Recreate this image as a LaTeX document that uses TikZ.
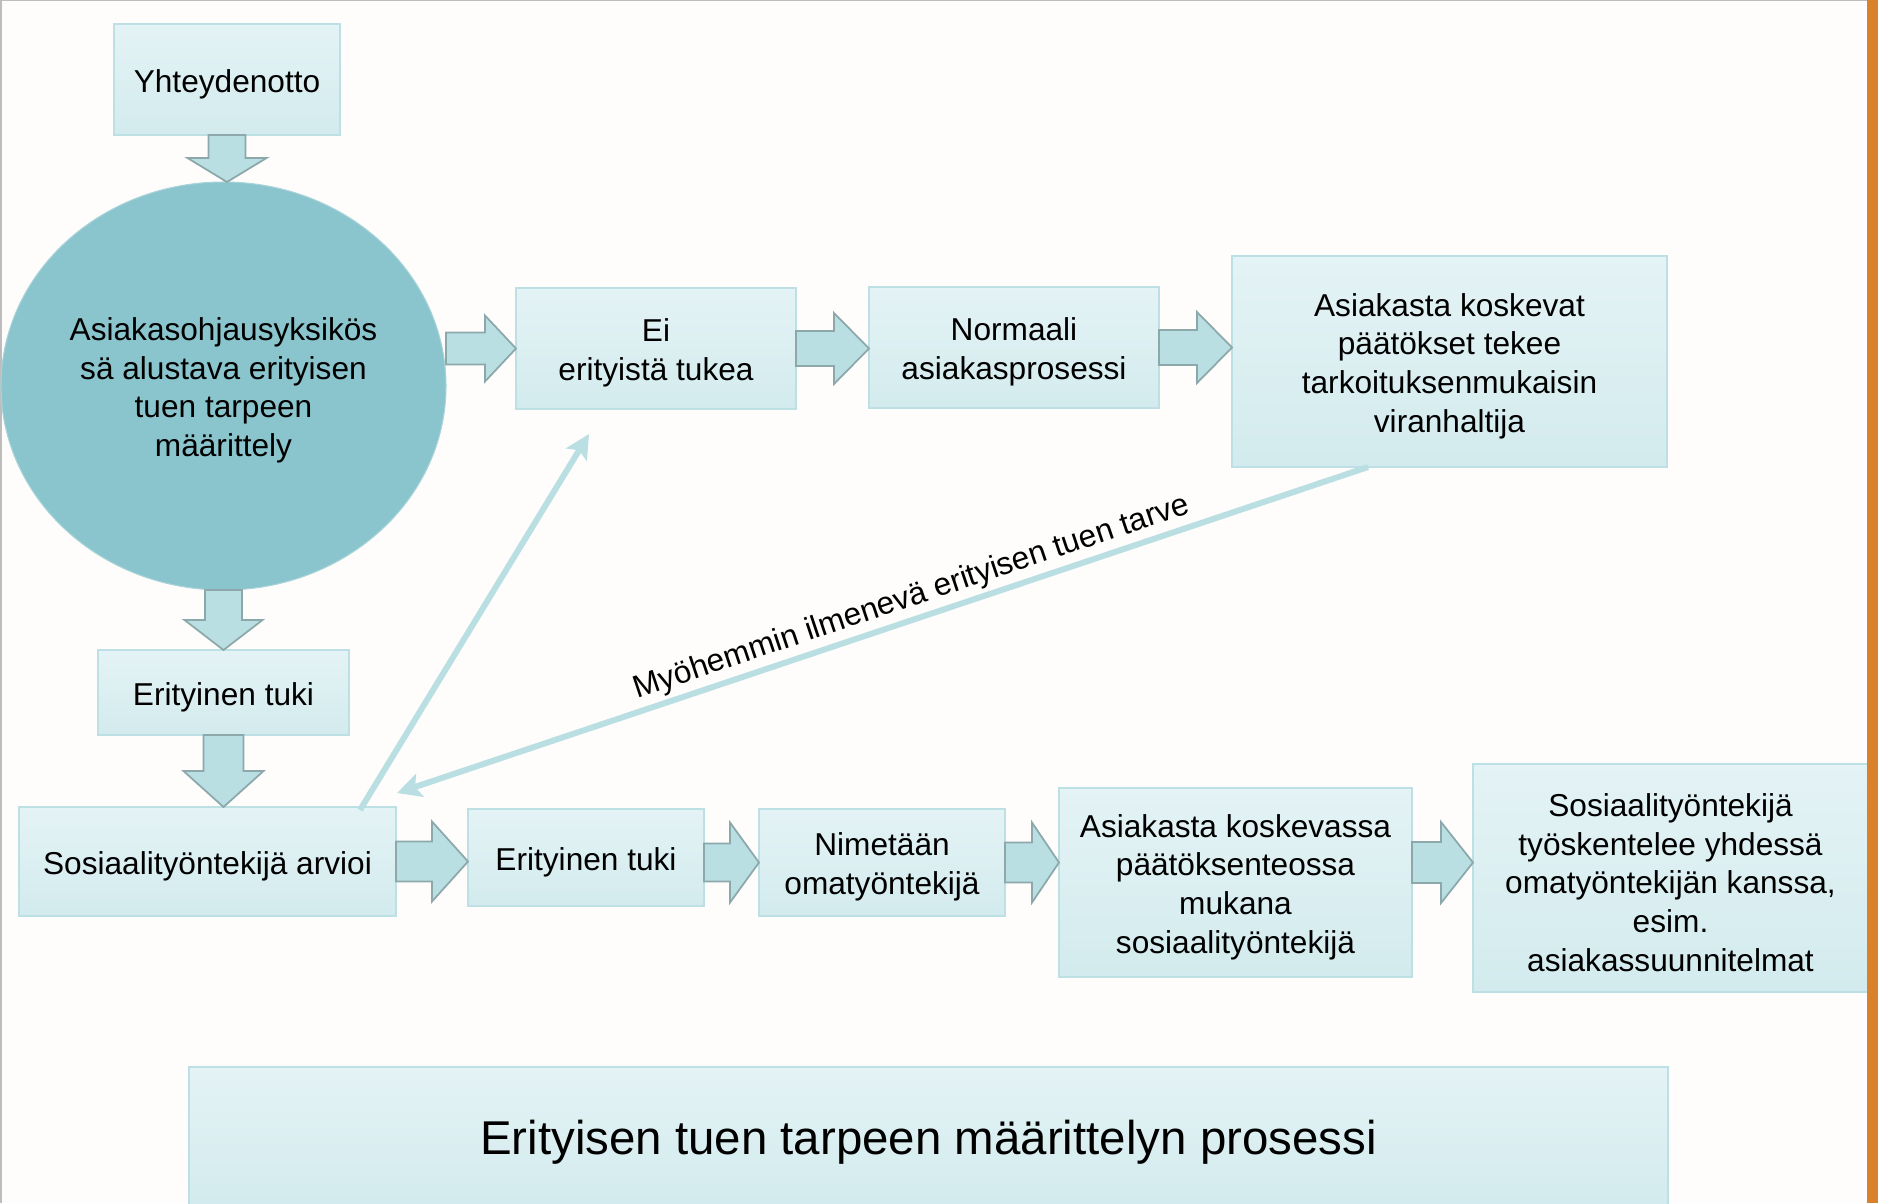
\documentclass[tikz,border=0pt]{standalone}
\usepackage{fontspec}
\setmainfont{Liberation Sans}
\usetikzlibrary{shapes.geometric,arrows.meta,calc}

\definecolor{bgcol}{HTML}{FEFDFB}
\definecolor{framegray}{HTML}{BDBDBD}
\definecolor{boxtop}{HTML}{E4F3F5}
\definecolor{boxbot}{HTML}{D3EBEE}
\definecolor{boxline}{HTML}{BDE0E5}
\definecolor{ellfill}{HTML}{8AC5CD}
\definecolor{fatfill}{HTML}{B9DFE3}
\definecolor{fatline}{HTML}{8CA8AB}
\definecolor{feedcol}{HTML}{BADFE3}
\definecolor{barorange}{HTML}{D9812B}

% strut for the first text line, so that text sits as in the slide
\newcommand{\topstrut}{\rule{0pt}{1em}}
% block arrows: start, end, half shaft, half head, head length
\newcommand{\rightfat}[5]{%
  \draw[fat] ($(#1)+(0,#3)$) -- ($(#2)+(-#5,#3)$) -- ($(#2)+(-#5,#4)$) -- (#2)
    -- ($(#2)+(-#5,-#4)$) -- ($(#2)+(-#5,-#3)$) -- ($(#1)+(0,-#3)$) -- cycle;}
\newcommand{\downfat}[5]{%
  \draw[fat] ($(#1)+(-#3,0)$) -- ($(#2)+(-#3,#5)$) -- ($(#2)+(-#4,#5)$) -- (#2)
    -- ($(#2)+(#4,#5)$) -- ($(#2)+(#3,#5)$) -- ($(#1)+(#3,0)$) -- cycle;}

\begin{document}
\begin{tikzpicture}
  [box/.style={rectangle,draw=boxline,line width=0.6pt,top color=boxtop,
               bottom color=boxbot,align=center,inner sep=0,outer sep=0,
               font=\fontsize{18}{22}\selectfont,
               execute at begin node={\topstrut}},
   ell/.style={ellipse,draw=ellfill!75!white,fill=ellfill,line width=0.6pt,
               align=center,inner sep=0,outer sep=0,
               font=\fontsize{18}{22}\selectfont},
   fat/.style={draw=fatline,fill=fatfill,line width=1pt,line join=miter},
   feed/.style={draw=feedcol,line width=3.4pt,
                -{Stealth[length=0.48cm,width=0.48cm,inset=0.1cm]}}]
  % background and frame
  \fill[bgcol] (0,0) rectangle (37.56,-24.06);
  \useasboundingbox (0,0) rectangle (37.56,-24.06);
  \fill[framegray] (0,0) rectangle (0.04,-24.06);
  \fill[framegray] (0,0) rectangle (37.56,-0.02);

  \node[box,minimum width=4.52cm,minimum height=2.22cm] (yht) at (4.54,-1.59) {Yhteydenotto};
  \node[ell,minimum width=8.9cm,minimum height=8.16cm] (asiakasohj) at (4.47,-7.72)
    {\topstrut Asiakasohjausyksikös\\sä alustava erityisen\\tuen tarpeen\\määrittely};
  \node[box,minimum width=5.6cm,minimum height=2.42cm] (ei) at (13.12,-6.97) {\topstrut Ei\\erityistä tukea};
  \node[box,minimum width=5.8cm,minimum height=2.42cm] (normaali) at (20.28,-6.95) {\topstrut Normaali\\asiakasprosessi};
  \node[box,minimum width=8.7cm,minimum height=4.22cm] (paatokset) at (28.99,-7.23)
    {\topstrut Asiakasta koskevat\\päätökset tekee\\tarkoituksenmukaisin\\viranhaltija};
  \node[box,minimum width=5.02cm,minimum height=1.7cm] (tuki1) at (4.47,-13.85) {Erityinen tuki};
  \node[box,minimum width=7.54cm,minimum height=2.18cm] (arvioi) at (4.15,-17.23) {Sosiaalityöntekijä arvioi};
  \node[box,minimum width=4.72cm,minimum height=1.94cm] (tuki2) at (11.72,-17.15) {Erityinen tuki};
  \node[box,minimum width=4.92cm,minimum height=2.14cm] (nimetaan) at (17.64,-17.25) {\topstrut Nimetään\\omatyöntekijä};
  \node[box,minimum width=7.06cm,minimum height=3.78cm] (koskevassa) at (24.71,-17.65)
    {\topstrut Asiakasta koskevassa\\päätöksenteossa\\mukana\\sosiaalityöntekijä};
  \node[box,minimum width=7.9cm,minimum height=4.56cm] (tyoskentelee) at (33.41,-17.56)
    {\topstrut Sosiaalityöntekijä\\työskentelee yhdessä\\omatyöntekijän kanssa,\\esim.\\asiakassuunnitelmat};
  \node[box,minimum width=29.58cm,minimum height=2.76cm,font=\fontsize{27}{32}\selectfont]
    (otsikko) at (18.57,-22.72) {Erityisen tuen tarpeen määrittelyn prosessi};

  % block arrows
  \downfat{yht.south}{yht.south |- asiakasohj.north}{0.37}{0.79}{0.48}
  \downfat{asiakasohj.south}{asiakasohj.south |- tuki1.north}{0.37}{0.78}{0.6}
  \downfat{tuki1.south}{tuki1.south |- arvioi.north}{0.4}{0.8}{0.72}
  \rightfat{asiakasohj.east |- ei.west}{ei.west}{0.32}{0.66}{0.62}
  \rightfat{ei.east}{ei.east -| normaali.west}{0.35}{0.71}{0.7}
  \rightfat{normaali.east}{normaali.east -| paatokset.west}{0.35}{0.71}{0.7}
  \rightfat{arvioi.east}{arvioi.east -| tuki2.west}{0.4}{0.8}{0.72}
  \rightfat{tuki2.east |- nimetaan.west}{nimetaan.west}{0.38}{0.8}{0.58}
  \rightfat{nimetaan.east}{nimetaan.east -| koskevassa.west}{0.4}{0.8}{0.54}
  \rightfat{koskevassa.east |- nimetaan.east}{nimetaan.east -| tyoskentelee.west}{0.41}{0.81}{0.64}

  % feedback lines
  \coordinate (eitip) at ($(ei.south west)+(1.46,-0.5)$);
  \coordinate (arvioitip) at ($(arvioi.north east)+(0.02,0.28)$);
  \draw[feed] ($(arvioi.north east)+(-0.72,-0.06)$) -- (eitip);
  \draw[feed] ($(paatokset.south west)+(2.72,0)$) --
    node[sloped,above,pos=0.463,inner sep=2pt,font=\fontsize{18}{22}\selectfont]
    {Myöhemmin ilmenevä erityisen tuen tarve} (arvioitip);

  \fill[barorange] (37.34,0) rectangle (37.56,-24.06);
\end{tikzpicture}
\end{document}
